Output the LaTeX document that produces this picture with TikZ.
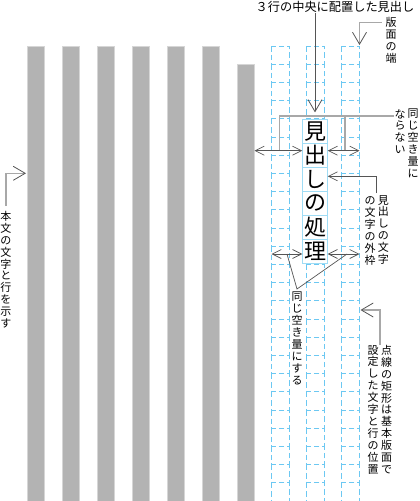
\documentclass[tikz,border=0pt]{standalone}
\usepackage{fontspec}
\newfontfamily\jp{Noto Sans CJK JP}
\usetikzlibrary{calc, positioning}
\usetikzlibrary{arrows.meta}

\definecolor{bargray}{HTML}{B3B3B3}
\definecolor{baredge}{HTML}{D6D6D6}
\definecolor{gridblue}{HTML}{6CC8F2}
\definecolor{boxblue}{HTML}{9FDCF5}
\definecolor{leadgray}{HTML}{A8A8A8}
\definecolor{inkgray}{HTML}{555555}

\tikzset{
  Vbig/.tip={Straight Barb[length=12pt,width=14pt,line width=0.8pt,color=inkgray]},
  Vsmall/.tip={Straight Barb[length=9pt,width=9pt,line width=0.7pt,color=inkgray]},
  vlabel/.style={font=\jp\fontsize{11}{11.9}\selectfont, align=center, inner sep=0pt, anchor=north},
  headchar/.style={draw=boxblue, fill=white, line width=0.8pt, minimum width=24.6pt,
    minimum height=24pt, inner sep=0pt, font=\jp\fontsize{22}{24}\selectfont},
  lead/.style={draw=leadgray, line width=1.6pt},
  thinlead/.style={draw=inkgray, line width=0.7pt},
  dimline/.style={draw=inkgray, line width=0.7pt, Vsmall-Vsmall},
}

\begin{document}
\begin{tikzpicture}[x=1pt, y=-1pt]
\def\colw{18}
\def\rowh{18.2}
\def\pitch{35}

\useasboundingbox (0,0) rectangle (420,501);

% body text lines
\foreach \k in {0,...,5}
  \draw[fill=bargray, draw=baredge, line width=0.8pt] ({27+\pitch*\k},46) rectangle ++(17.5,455);
\draw[fill=bargray, draw=baredge, line width=0.8pt] (237,64) rectangle ++(17.5,437);

% base type area grid
\foreach \i in {0,1,2}
  \foreach \j in {0,...,24}
    \draw[gridblue, dash pattern=on 5.5pt off 3pt, line width=1pt]
      ({271.5+\pitch*\i},{46+\rowh*\j}) rectangle ++(\colw,\rowh);

% heading
\foreach \ch [count=\n from 0] in {見,出,し,の,処,理}
  \node[headchar] (h\n) at (315,{131.3+24*\n}) {\ch};

\coordinate (gridTR) at (359.5,45);
\coordinate (barR) at (254.5,150.7);
\coordinate (colR) at (359.5,150.7);
\coordinate (neqL) at (279.5,150.7);
\coordinate (neqR) at (345,150.7);
\coordinate (colL2) at (271.5,254);
\coordinate (colR2) at (359.5,254);
\coordinate (eqA) at (287,254);
\coordinate (eqB) at (347,254);
\coordinate (gridE) at (360.5,310);
\coordinate (barL) at (26,173.3);

\node[font=\jp\fontsize{12.2}{14}\selectfont, inner sep=0pt] (toplbl) at (335,7) {３行の中央に配置した見出し};
\node[vlabel] (edgelbl) at (391,17) {版\\面\\の\\端};
\node[vlabel] (neq1) at (413,109) {同\\じ\\空\\き\\量\\に};
\node[vlabel] (neq2) at (400,109) {な\\ら\\な\\い};
\node[vlabel] (frm1) at (383.3,195) {見\\出\\し\\の\\文\\字};
\node[vlabel] (frm2) at (370,196.5) {の\\文\\字\\の\\外\\枠};
\node[vlabel] (eqlbl) at (297,292) {同\\じ\\空\\き\\量\\に\\す\\る};
\node[vlabel] (dot1) at (386.7,345) {点\\線\\の\\矩\\形\\は\\基\\本\\版\\面\\で};
\node[vlabel] (dot2) at (373,345) {設\\定\\し\\た\\文\\字\\と\\行\\の\\位\\置};
\node[vlabel] (txtlbl) at (6,211) {本\\文\\の\\文\\字\\と\\行\\を\\示\\す};

% leaders
\draw[thinlead, -Vbig] (toplbl.south -| h0.north) -- ([yshift=6.5pt]h0.north);
\draw[lead, -Vbig] ([xshift=-3.5pt,yshift=-5.5pt]edgelbl.north west) -| (gridTR);
\draw[lead] (neqL) |- (neq2.west |- 0,116);
\draw[lead] (neqR) -- (neqR |- 0,116);
\draw[thinlead, -Vsmall] ([xshift=-1pt,yshift=2pt]frm1.north west) |- ([yshift=3pt]h2.east);
\draw[thinlead] (eqA) -- ([yshift=3pt]eqlbl.north) -- (eqB);
\draw[lead, -Vbig] ([xshift=-1pt]dot1.north west) |- (gridE);
\draw[lead, -Vbig] ([yshift=5pt]txtlbl.north) |- (barL);

% spacing arrows
\draw[dimline] (barR) -- (barR -| h0.west);
\draw[dimline] (colR -| h0.east) -- (colR);
\draw[dimline] (colL2) -- (colL2 -| h5.west);
\draw[dimline] (colR2 -| h5.east) -- (colR2);
\end{tikzpicture}
\end{document}
